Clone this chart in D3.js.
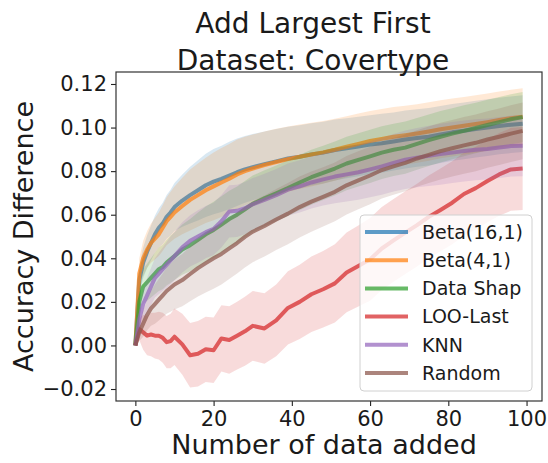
<!DOCTYPE html>
<html>
<head>
<meta charset="utf-8">
<script src="https://cdn.jsdelivr.net/npm/d3@7"></script>
<style>
  body { margin: 0; background: #fff; }
  text { font-family: "DejaVu Sans", sans-serif; fill: #1a1a1a; }
</style>
</head>
<body>
<svg id="chart" width="548" height="463"></svg>
<script>
// Number of data points added (x positions shared by every series)
const steps = [0,1,2,3,4,5,6,7,8,9,10,12,14,16,18,20,22,24,26,28,30,33,36,39,42,45,48,51,54,57,60,63,66,69,72,75,78,81,84,87,90,93,96,99];

const seriesNames = ["Beta(16,1)", "Beta(4,1)", "Data Shap", "LOO-Last", "KNN", "Random"];
const seriesColors = ["#1f77b4", "#ff7f0e", "#2ca02c", "#d62728", "#9467bd", "#8c564b"];

// Mean accuracy difference per method
const meanBeta16 = [0,0.030,0.038,0.043,0.047,0.051,0.054,0.056,0.059,0.061,0.0635,0.0665,0.069,0.0712,0.0735,0.0752,0.0765,0.078,0.0795,0.0808,0.0818,0.0832,0.0845,0.0858,0.0866,0.0877,0.0885,0.0897,0.0905,0.0913,0.0922,0.0928,0.0936,0.0945,0.0952,0.0958,0.0968,0.0978,0.0985,0.0993,0.1000,0.1007,0.1013,0.1018];
const meanBeta4 = [0,0.033,0.040,0.044,0.047,0.049,0.051,0.054,0.057,0.059,0.061,0.064,0.0668,0.069,0.0712,0.073,0.0748,0.0765,0.0785,0.080,0.0812,0.0828,0.0842,0.0855,0.0866,0.0876,0.0886,0.0898,0.0912,0.0925,0.0938,0.0948,0.0958,0.0965,0.0973,0.0982,0.0992,0.1000,0.1008,0.1016,0.1025,0.1035,0.1043,0.1050];
const meanDataShap = [0,0.020,0.027,0.029,0.031,0.033,0.035,0.036,0.038,0.0395,0.041,0.044,0.046,0.0485,0.051,0.053,0.0555,0.058,0.060,0.0625,0.065,0.0675,0.0698,0.0722,0.0748,0.0772,0.0792,0.0812,0.0835,0.0852,0.0868,0.0885,0.0898,0.0908,0.0925,0.0942,0.0958,0.0972,0.0985,0.0998,0.1012,0.1025,0.1038,0.1048];
const meanLooLast = [0,0.0075,0.006,0.0045,0.005,0.0045,0.0045,0.0035,0.0015,0.002,0.004,0.0005,-0.0045,-0.0038,-0.0018,-0.0022,0.0032,0.0025,0.0045,0.0065,0.009,0.0078,0.0115,0.0172,0.020,0.0235,0.0258,0.0285,0.0335,0.0365,0.0395,0.0445,0.0482,0.0518,0.0552,0.059,0.0622,0.0655,0.0695,0.0722,0.0755,0.0785,0.0808,0.0812];
const meanKnn = [0,0.012,0.019,0.023,0.027,0.031,0.033,0.035,0.037,0.039,0.041,0.045,0.048,0.050,0.052,0.0535,0.057,0.0615,0.0618,0.063,0.0648,0.0668,0.069,0.0715,0.073,0.0748,0.0762,0.0775,0.0785,0.0795,0.0808,0.0822,0.0838,0.0852,0.0862,0.087,0.0878,0.0885,0.0892,0.0898,0.0902,0.0908,0.0915,0.0917];
const meanRandom = [0,0.006,0.010,0.014,0.017,0.019,0.021,0.023,0.025,0.0265,0.028,0.030,0.0328,0.0355,0.0378,0.040,0.042,0.0445,0.047,0.0498,0.0522,0.0548,0.0578,0.0605,0.0635,0.066,0.0682,0.0705,0.0735,0.0758,0.078,0.0805,0.0822,0.0838,0.0858,0.0875,0.0892,0.0905,0.0918,0.093,0.0945,0.0958,0.0972,0.0985];

// Standard deviation per method (shaded band = mean ± std)
const stdBeta16 = [0,0.006,0.007,0.0075,0.008,0.0085,0.009,0.0095,0.010,0.0105,0.011,0.012,0.013,0.0138,0.0145,0.015,0.0152,0.0155,0.0155,0.0153,0.0152,0.015,0.0148,0.0146,0.0145,0.0143,0.0142,0.014,0.0138,0.0137,0.0135,0.0135,0.0133,0.0133,0.0132,0.0132,0.0131,0.013,0.013,0.013,0.013,0.013,0.013,0.013];
const stdBeta4 = [0,0.007,0.008,0.0085,0.009,0.0095,0.010,0.0105,0.011,0.0115,0.012,0.013,0.014,0.0145,0.015,0.0155,0.0158,0.016,0.016,0.0158,0.0156,0.0154,0.0152,0.015,0.0148,0.0146,0.0144,0.0142,0.014,0.0139,0.0138,0.0137,0.0136,0.0135,0.0134,0.0134,0.0133,0.0133,0.0132,0.0132,0.0131,0.0131,0.013,0.013];
const stdDataShap = [0,0.006,0.008,0.0085,0.009,0.0095,0.010,0.0102,0.0105,0.0108,0.011,0.0115,0.012,0.0125,0.0128,0.013,0.013,0.013,0.013,0.013,0.013,0.0129,0.0128,0.0128,0.0127,0.0126,0.0125,0.0124,0.0123,0.0122,0.0122,0.0121,0.012,0.012,0.0119,0.0118,0.0118,0.0117,0.0117,0.0116,0.0116,0.0115,0.0115,0.0115];
const stdLooLast = [0,0.005,0.008,0.009,0.010,0.0105,0.011,0.0115,0.012,0.0125,0.013,0.014,0.0148,0.015,0.015,0.015,0.0152,0.0155,0.0155,0.0158,0.016,0.0162,0.0165,0.0168,0.017,0.0173,0.0176,0.018,0.0183,0.0186,0.019,0.019,0.019,0.019,0.019,0.019,0.019,0.019,0.019,0.019,0.019,0.019,0.019,0.019];
const stdKnn = [0,0.005,0.007,0.008,0.0085,0.009,0.0095,0.010,0.0105,0.011,0.0112,0.0115,0.0118,0.012,0.012,0.012,0.012,0.012,0.012,0.012,0.012,0.012,0.012,0.012,0.012,0.012,0.012,0.0122,0.0124,0.0126,0.0128,0.013,0.0132,0.0134,0.0136,0.0138,0.014,0.014,0.014,0.014,0.014,0.014,0.014,0.014];
const stdRandom = [0,0.004,0.006,0.007,0.008,0.009,0.0095,0.010,0.0105,0.011,0.0115,0.012,0.0125,0.013,0.0135,0.014,0.014,0.014,0.014,0.014,0.014,0.014,0.014,0.014,0.014,0.0138,0.0136,0.0135,0.0134,0.0133,0.0132,0.0131,0.013,0.013,0.013,0.013,0.013,0.013,0.013,0.013,0.013,0.013,0.013,0.013];

const yTicks = [-0.02, 0, 0.02, 0.04, 0.06, 0.08, 0.10, 0.12];
const xTicks = [0, 20, 40, 60, 80, 100];

const means = [meanBeta16, meanBeta4, meanDataShap, meanLooLast, meanKnn, meanRandom];
const stds = [stdBeta16, stdBeta4, stdDataShap, stdLooLast, stdKnn, stdRandom];

const svg = d3.select("#chart");
const plot = { left: 116, right: 542, top: 72, bottom: 401 };

const x = d3.scaleLinear().domain([-4.95, 103.95]).range([plot.left, plot.right]);
const y = d3.scaleLinear().domain([-0.0255, 0.1255]).range([plot.bottom, plot.top]);

svg.append("defs").append("clipPath").attr("id", "plot-clip")
  .append("rect")
  .attr("x", plot.left).attr("y", plot.top)
  .attr("width", plot.right - plot.left).attr("height", plot.bottom - plot.top);

const series = seriesNames.map((name, i) => ({
  name,
  color: seriesColors[i],
  points: steps.map((s, j) => ({ x: s, m: means[i][j], sd: stds[i][j] }))
}));

const area = d3.area()
  .x(d => x(d.x))
  .y0(d => y(d.m - d.sd))
  .y1(d => y(d.m + d.sd));
const line = d3.line().x(d => x(d.x)).y(d => y(d.m));

const marks = svg.append("g").attr("clip-path", "url(#plot-clip)");
series.forEach(s => {
  marks.append("path").datum(s.points)
    .attr("d", area)
    .attr("fill", s.color)
    .attr("fill-opacity", 0.17);
  marks.append("path").datum(s.points)
    .attr("d", line)
    .attr("fill", "none")
    .attr("stroke", s.color)
    .attr("stroke-opacity", 0.72)
    .attr("stroke-width", 4)
    .attr("stroke-linejoin", "round");
});

// Axes
const fmtY = v => (v < 0 ? "\u2212" : "") + Math.abs(v).toFixed(2);
const yAxis = svg.append("g")
  .attr("transform", `translate(${plot.left},0)`)
  .call(d3.axisLeft(y).tickValues(yTicks).tickFormat(fmtY).tickSize(5).tickPadding(4));
const xAxis = svg.append("g")
  .attr("transform", `translate(0,${plot.bottom})`)
  .call(d3.axisBottom(x).tickValues(xTicks).tickFormat(d3.format("d")).tickSize(5).tickPadding(5));

[yAxis, xAxis].forEach(g => {
  g.select(".domain").remove();
  g.selectAll(".tick line").attr("stroke", "#222").attr("stroke-width", 1.1);
  g.selectAll(".tick text")
    .style("font-family", "DejaVu Sans")
    .style("font-size", "21px")
    .attr("fill", "#1a1a1a");
});

// Frame
svg.append("rect")
  .attr("x", plot.left).attr("y", plot.top)
  .attr("width", plot.right - plot.left).attr("height", plot.bottom - plot.top)
  .attr("fill", "none").attr("stroke", "#333").attr("stroke-width", 1.2);

// Titles
svg.append("text").attr("x", 313).attr("y", 33).attr("text-anchor", "middle")
  .style("font-size", "28px").text("Add Largest First");
svg.append("text").attr("x", 313).attr("y", 70).attr("text-anchor", "middle")
  .style("font-size", "28px").text("Dataset: Covertype");

svg.append("text").attr("x", 324).attr("y", 454).attr("text-anchor", "middle")
  .style("font-size", "27px").text("Number of data added");
svg.append("text")
  .attr("transform", `translate(33,${(plot.top + plot.bottom) / 2}) rotate(-90)`)
  .attr("text-anchor", "middle")
  .style("font-size", "27px").text("Accuracy Difference");

// Legend
const legend = svg.append("g").attr("transform", "translate(360,215)");
legend.append("rect")
  .attr("width", 172).attr("height", 176).attr("rx", 4)
  .attr("fill", "#fff").attr("fill-opacity", 0.8)
  .attr("stroke", "#d0d0d0").attr("stroke-width", 1);
series.forEach((s, i) => {
  const cy = 17 + i * 28.2;
  legend.append("line")
    .attr("x1", 5).attr("x2", 48).attr("y1", cy).attr("y2", cy)
    .attr("stroke", s.color).attr("stroke-opacity", 0.72).attr("stroke-width", 4);
  legend.append("text")
    .attr("x", 62).attr("y", cy).attr("dy", "0.36em")
    .style("font-size", "19px").text(s.name);
});
</script>
</body>
</html>
